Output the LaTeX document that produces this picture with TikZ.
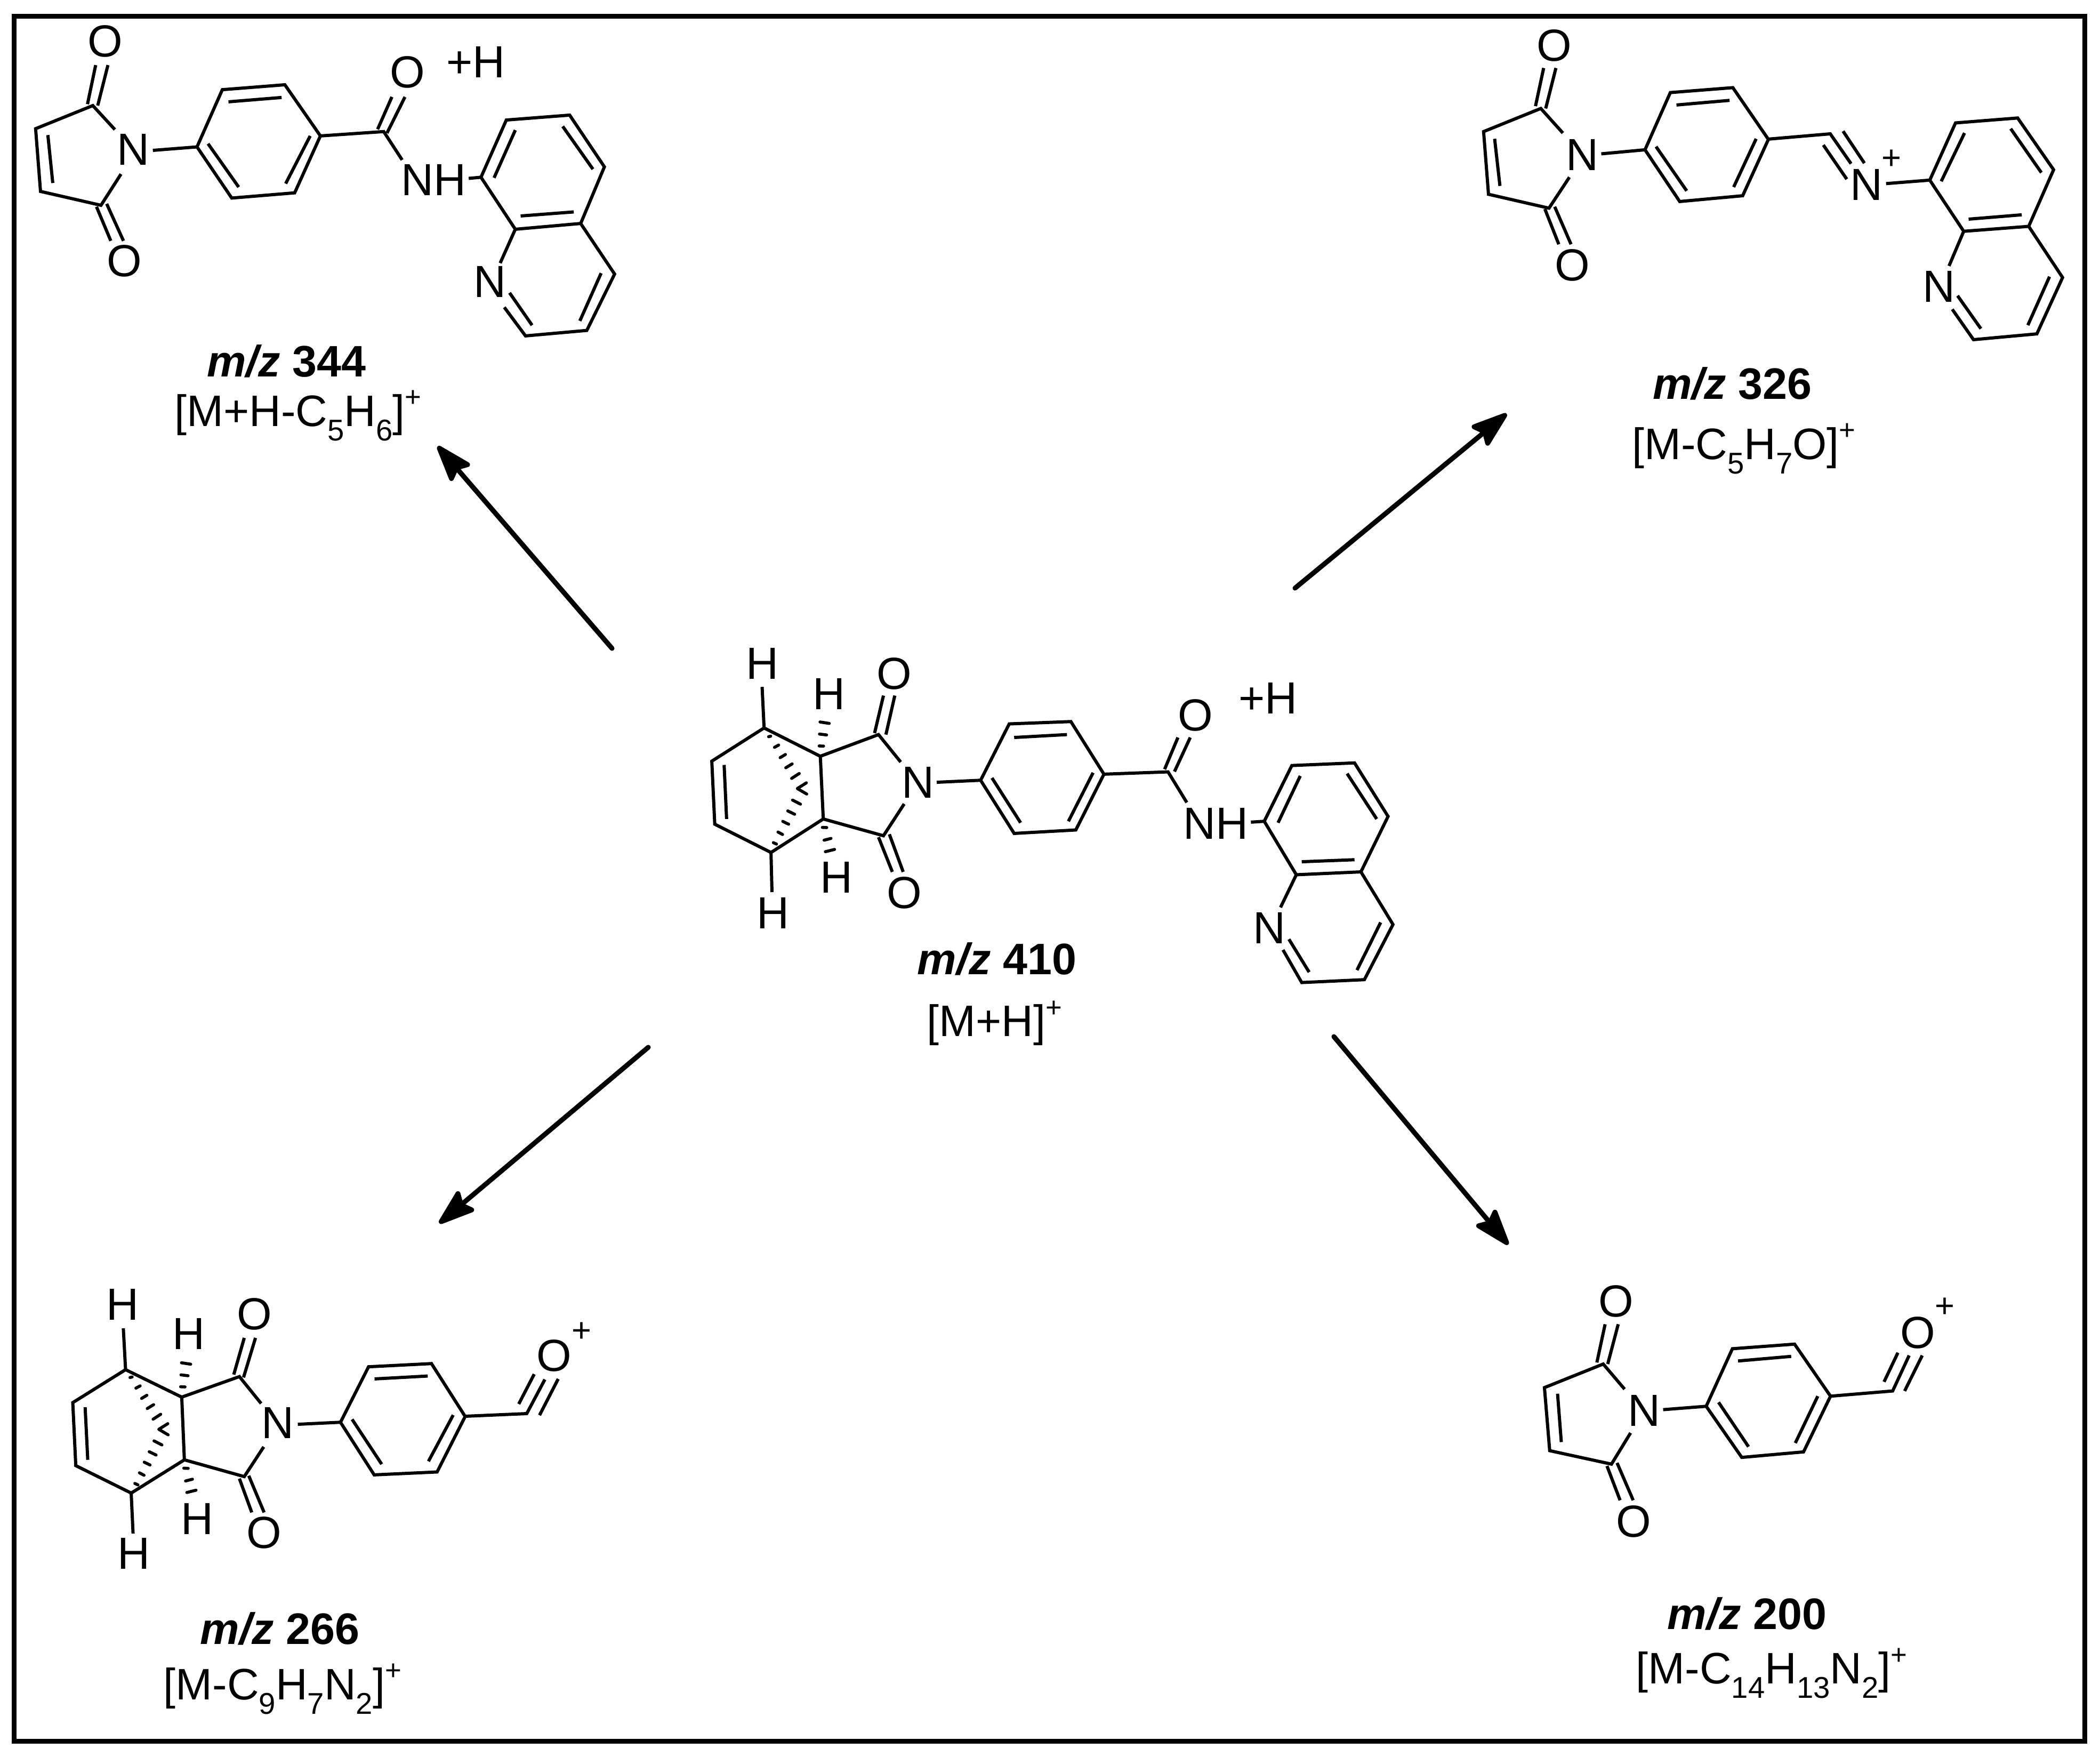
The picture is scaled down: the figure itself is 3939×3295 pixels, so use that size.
\documentclass[tikz,border=0pt]{standalone}
\usepackage{fontspec}
\setmainfont{Liberation Sans}
\usetikzlibrary{arrows.meta}
\tikzset{
  bond/.style={line width=1.7pt,line join=miter,line cap=butt,black},
  hashbar/.style={line width=1.6pt,line cap=round,line join=round,black},
  reaction/.style={line width=2.6pt,line cap=round,black,-{Stealth[length=0.80cm,width=0.54cm,inset=0.12cm,round]}},
  atom/.style={inner sep=0pt,outer sep=0pt,font=\fontsize{24}{24}\selectfont},
  pluscharge/.style={inner sep=0pt,outer sep=0pt,font=\fontsize{18}{18}\selectfont},
  formula/.style={inner sep=0pt,outer sep=0pt,anchor=base,font=\fontsize{23.5}{28}\selectfont},
}
\newcommand{\sbb}[1]{\raisebox{-7.6pt}{\fontsize{16}{16}\selectfont #1}}
\newcommand{\spp}{\raisebox{10.5pt}{\fontsize{15}{15}\selectfont +}}
\newcommand{\mz}[1]{\textbf{\textit{m/z} #1}}
% hashed bonds of the norbornene cage, drawn at the reference's scale
\newcommand{\hashset}[2]{%
  \begin{scope}[shift={(#1,#2)},x=0.003333cm,y=-0.003333cm]
  \draw[hashbar] (125,95) -- (137,92) (158,155) -- (182,142) (190,213) -- (220,195)
    (222,270) -- (258,248) (255,330) -- (298,302);
  \draw[hashbar] (338,355) -- (287,387) -- (340,418);
  \draw[hashbar] (260,452) -- (305,475) (233,513) -- (272,532) (205,572) -- (238,588)
    (178,632) -- (204,646) (152,692) -- (170,700);
  \draw[hashbar] (410,147) -- (435,148) (412,80) -- (452,85) (415,12) -- (467,20);
  \draw[hashbar] (428,606) -- (453,607) (438,678) -- (477,668) (445,743) -- (497,730);
  \end{scope}}
\begin{document}
\begin{tikzpicture}[x=0.01cm,y=-0.01cm]
\useasboundingbox (0,0) rectangle (3939,3295);
\draw[line width=2.56pt] (26.5,30.5) rectangle (3910.5,3265.5);

% ---------- m/z 410 ----------
\begin{scope}[shift={(1250,1150)},x=0.009247cm,y=-0.00542cm]
\draw[bond] (198,397) -- (92,512) -- (98,730) -- (212,828) -- (318,712) -- (312,495) -- cycle;
\draw[bond] (117,525) -- (122,712);
\draw[bond] (198,397) -- (194,255); \draw[bond] (212,828) -- (214,965);
\draw[bond] (312,495) -- (430,420) -- (475,515);
\draw[bond] (318,712) -- (440,770) -- (482,660);
\draw[bond] (422,415) -- (440,285) (445,420) -- (463,285);
\draw[bond] (430,775) -- (458,895) (452,765) -- (480,895);
\draw[bond] (548,585) -- (637,578);
\draw[bond] (637,578) -- (695,383) -- (820,375) -- (887,557) -- (830,750) -- (705,762) -- cycle;
\draw[bond] (705,430) -- (812,420) (865,552) -- (815,720) (660,570) -- (718,725);
\draw[bond] (887,557) -- (1017,549) -- (1055,655);
\draw[bond] (1010,540) -- (1037,430) (1030,548) -- (1062,430);
\draw[bond] (1185,723) -- (1212,720);
\draw[bond] (1212,720) -- (1268,527) -- (1395,518) -- (1463,703) -- (1408,895) -- (1277,905) -- cycle;
\draw[bond] (1285,563) -- (1240,725) (1380,555) -- (1440,712) (1288,860) -- (1395,853);
\draw[bond] (1408,895) -- (1473,1077) -- (1415,1268) -- (1288,1278) -- (1250,1165);
\draw[bond] (1277,905) -- (1245,1018);
\draw[bond] (1262,1128) -- (1303,1242) (1400,1235) -- (1448,1070);
\node[atom] (cHa) at (194,175) {H};
\node[atom] (cHb) at (216,1038) {H};
\node[atom] (cHc) at (330,280) {H};
\node[atom] (cHd) at (345,915) {H};
\node[atom] (cOa) at (462,210) {O};
\node[atom] (cOb) at (482,968) {O};
\node[atom] (cNa) at (510,585) {N};
\node[atom] (cOc) at (1072,353) {O};
\node[atom] (cNH) at (1114,728) {NH};
\node[atom] (cNb) at (1222,1090) {N};
\node[atom] (cPH) at (1220,295) {+H};
\node[formula] (cL) at (670,1250) {\mz{410}};
\node[formula] (cF) at (665,1465) {[M+H]\spp};
\end{scope}
\hashset{1400}{1350}

% ---------- m/z 344 ----------
\begin{scope}[shift={(30,30)},x=0.007653cm,y=-0.00542cm]
\draw[bond] (242,393) -- (188,310) -- (48,390) -- (60,607) -- (208,655) -- (257,547);
\draw[bond] (78,412) -- (90,578);
\draw[bond] (175,305) -- (195,170) (200,310) -- (225,170);
\draw[bond] (197,660) -- (232,778) (222,650) -- (263,778);
\draw[bond] (335,465) -- (443,453);
\draw[bond] (443,453) -- (505,255) -- (658,238) -- (745,415) -- (682,612) -- (528,630) -- cycle;
\draw[bond] (520,297) -- (650,282) (720,415) -- (660,580) (470,442) -- (545,592);
\draw[bond] (745,415) -- (900,400) -- (945,498);
\draw[bond] (885,392) -- (920,280) (908,405) -- (952,280);
\draw[bond] (1108,562) -- (1138,558);
\draw[bond] (1138,558) -- (1200,360) -- (1355,343) -- (1440,522) -- (1382,718) -- (1222,738) -- cycle;
\draw[bond] (1222,395) -- (1170,560) (1338,382) -- (1412,530) (1235,692) -- (1365,678);
\draw[bond] (1382,718) -- (1465,893) -- (1397,1088) -- (1247,1107) -- (1195,1008);
\draw[bond] (1222,738) -- (1185,855);
\draw[bond] (1208,958) -- (1263,1070) (1380,1055) -- (1432,890);
\node[atom] (tlOa) at (218,88) {O};
\node[atom] (tlOb) at (265,847) {O};
\node[atom] (tlNa) at (287,463) {N};
\node[atom] (tlOc) at (958,195) {O};
\node[atom] (tlNH) at (1022,568) {NH};
\node[atom] (tlNb) at (1160,920) {N};
\node[atom] (tlPH) at (1125,160) {+H};
\node[formula] (tlL) at (662,1248) {\mz{344}};
\node[formula] (tlF) at (690,1420) {[M+H-C\sbb{5}H\sbb{6}]\spp};
\end{scope}

% ---------- m/z 326 ----------
\begin{scope}[shift={(2700,30)},x=0.007653cm,y=-0.00542cm]
\draw[bond] (302,405) -- (248,320) -- (108,400) -- (120,617) -- (268,665) -- (318,558);
\draw[bond] (135,425) -- (148,588);
\draw[bond] (235,312) -- (255,180) (260,320) -- (285,180);
\draw[bond] (258,668) -- (292,790) (282,660) -- (322,790);
\draw[bond] (396,477) -- (503,463);
\draw[bond] (503,463) -- (565,265) -- (718,248) -- (805,427) -- (742,622) -- (588,642) -- cycle;
\draw[bond] (580,308) -- (710,292) (775,425) -- (720,592) (530,452) -- (605,605);
\draw[bond] (1093,580) -- (1200,568);
\draw[bond] (1200,568) -- (1263,370) -- (1415,353) -- (1503,532) -- (1442,728) -- (1283,745) -- cycle;
\draw[bond] (1285,405) -- (1228,572) (1398,390) -- (1473,542) (1295,703) -- (1425,688);
\draw[bond] (1442,728) -- (1525,905) -- (1462,1100) -- (1307,1120) -- (1255,1015);
\draw[bond] (1283,745) -- (1247,865);
\draw[bond] (1268,968) -- (1325,1082) (1440,1070) -- (1493,902);
\node[atom] (trOa) at (281,103) {O};
\node[atom] (trOb) at (325,863) {O};
\node[atom] (trNa) at (350,480) {N};
\node[atom] (trNc) at (1222,937) {N};
\node[formula] (trL) at (717,1325) {\mz{326}};
\node[formula] (trF) at (745,1535) {[M-C\sbb{5}H\sbb{7}O]\spp};
\end{scope}
\draw[bond] (3316,261) -- (3433,251) -- (3472,307);
\draw[bond] (3457,246) -- (3497,306) (3420,272) -- (3464,336);
\node[atom] (trNb) at (3501,346) {N};
\node[pluscharge] (trP) at (3548,299) {+};

% ---------- m/z 266 ----------
\begin{scope}[shift={(100,2380)},x=0.007015cm,y=-0.00542cm]
\draw[bond] (193,348) -- (52,462) -- (60,680) -- (208,775) -- (350,660) -- (343,443) -- cycle;
\draw[bond] (85,478) -- (92,660);
\draw[bond] (193,348) -- (187,205); \draw[bond] (208,775) -- (213,915);
\draw[bond] (343,443) -- (497,372) -- (555,465);
\draw[bond] (350,660) -- (510,718) -- (562,615);
\draw[bond] (482,365) -- (510,238) (508,375) -- (540,238);
\draw[bond] (497,725) -- (530,842) (522,715) -- (563,842);
\draw[bond] (653,537) -- (767,530);
\draw[bond] (767,530) -- (842,338) -- (1010,327) -- (1100,510) -- (1025,702) -- (857,712) -- cycle;
\draw[bond] (858,380) -- (1000,370) (1068,505) -- (1002,665) (798,520) -- (877,675);
\node[atom] (blHa) at (185,122) {H};
\node[atom] (blHb) at (215,985) {H};
\node[atom] (blHc) at (362,225) {H};
\node[atom] (blHd) at (385,865) {H};
\node[atom] (blOa) at (537,155) {O};
\node[atom] (blOb) at (563,912) {O};
\node[atom] (blNa) at (600,532) {N};
\node[formula] (blL) at (605,1298) {\mz{266}};
\node[formula] (blF) at (612,1490) {[M-C\sbb{9}H\sbb{7}N\sbb{2}]\spp};
\end{scope}
\hashset{202.3}{2551.7}
\draw[bond] (872,2656) -- (988,2651) -- (1022,2587);
\draw[bond] (973,2633) -- (1002,2577) (1012,2654) -- (1047,2586);
\node[atom] (blOc) at (1039,2542) {O};
\node[pluscharge] (blP) at (1091,2498) {+};

% ---------- m/z 200 ----------
\begin{scope}[shift={(2800,2360)},x=0.007015cm,y=-0.00574cm]
\draw[bond] (352,427) -- (295,345) -- (138,422) -- (152,628) -- (317,672) -- (368,570);
\draw[bond] (173,442) -- (183,600);
\draw[bond] (278,340) -- (300,215) (307,345) -- (335,215);
\draw[bond] (305,678) -- (340,790) (332,668) -- (375,790);
\draw[bond] (455,494) -- (570,483);
\draw[bond] (570,483) -- (640,295) -- (806,280) -- (902,450) -- (830,632) -- (665,650) -- cycle;
\draw[bond] (655,335) -- (797,320) (868,450) -- (808,603) (603,470) -- (683,615);
\draw[bond] (902,450) -- (1068,433) -- (1112,317);
\draw[bond] (1045,403) -- (1082,308) (1100,433) -- (1147,317);
\node[atom] (brOa) at (330,140) {O};
\node[atom] (brOb) at (377,860) {O};
\node[atom] (brNa) at (405,497) {N};
\node[atom] (brOc) at (1135,243) {O};
\node[pluscharge] (brP) at (1208,160) {+};
\node[formula] (brL) at (679,1212) {\mz{200}};
\node[formula] (brF) at (745,1390) {[M-C\sbb{14}H\sbb{13}N\sbb{2}]\spp};
\end{scope}

% ---------- reaction arrows ----------
\coordinate (s1) at (1148,1216); \coordinate (e1) at (821,837);
\coordinate (s2) at (2429,1103); \coordinate (e2) at (2826,776);
\coordinate (s3) at (1216,1964); \coordinate (e3) at (824,2294);
\coordinate (s4) at (2502,1944); \coordinate (e4) at (2829,2334);
\draw[reaction] (s1) -- (e1);
\draw[reaction] (s2) -- (e2);
\draw[reaction] (s3) -- (e3);
\draw[reaction] (s4) -- (e4);
\end{tikzpicture}
\end{document}
